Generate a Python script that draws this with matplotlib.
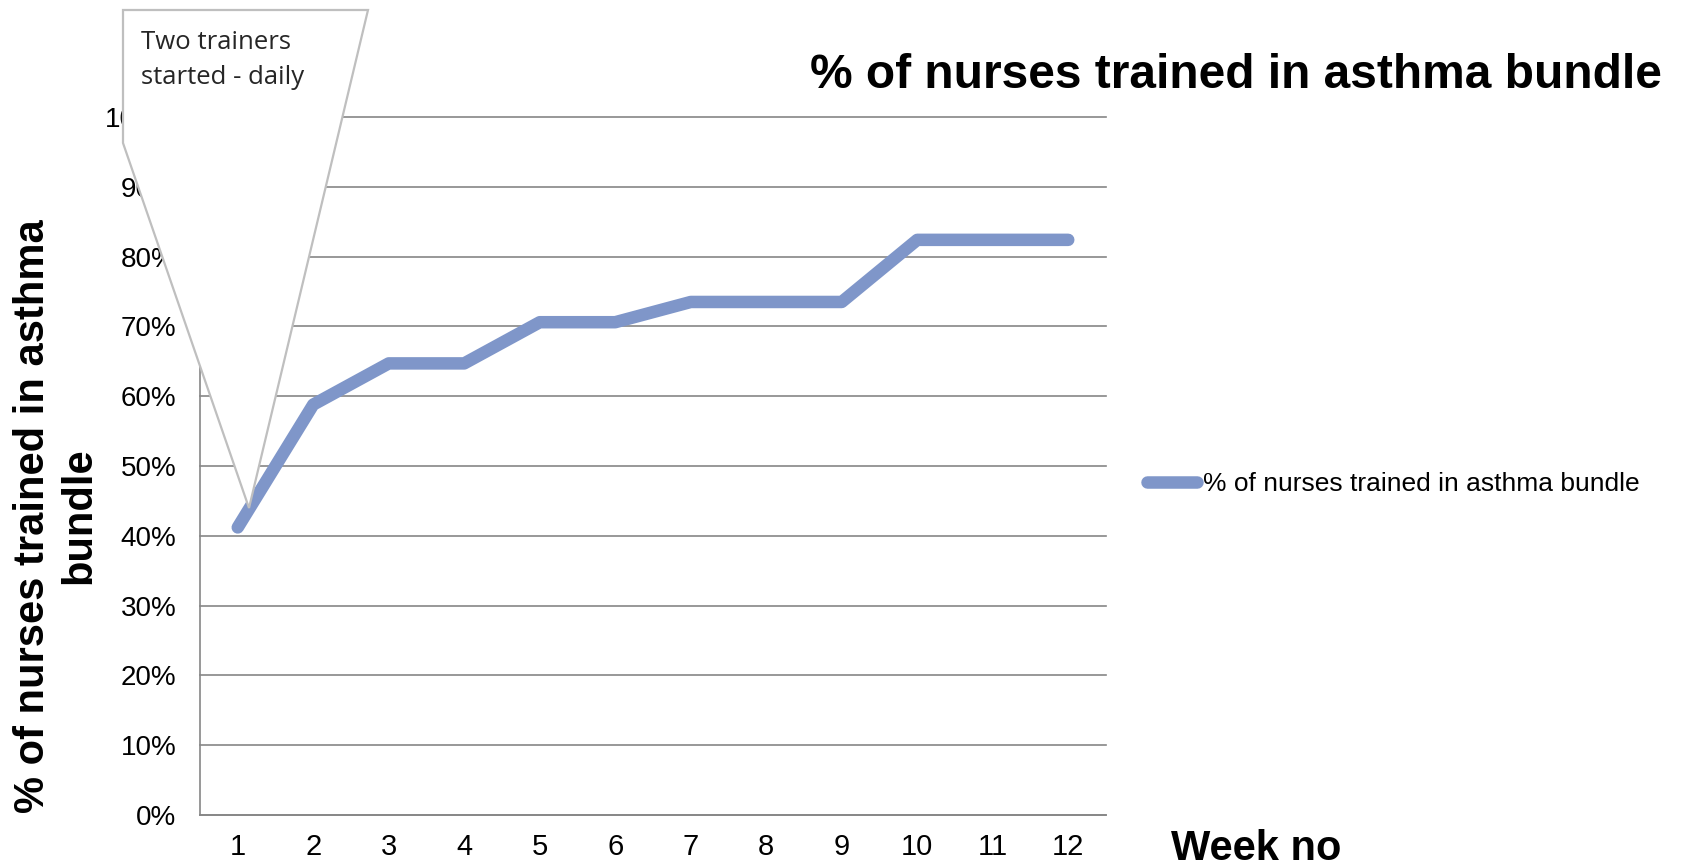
import numpy as np
import matplotlib
matplotlib.use('Agg')
from matplotlib import pyplot as plt
from matplotlib.patches import Polygon
from matplotlib.transforms import Affine2D

plt.rcParams['font.family'] = ['Liberation Sans', 'DejaVu Sans']

# data: weekly share of nurses trained
weeks = np.arange(1, 13)
trained = [41.2, 58.8, 64.7, 64.7, 70.6, 70.6, 73.5, 73.5, 73.5, 82.4, 82.4, 82.4]
yticks = np.arange(0, 101, 10)
series_name = '% of nurses trained in asthma bundle'
callout_text = 'Two trainers\nstarted - daily'

W, H = 1683, 867
fig = plt.figure(figsize=(W/100, H/100), dpi=100)
ax = fig.add_axes([200/W, 52/H, 906/W, 698/H])

ax.plot(weeks, trained, color='#7F96C9', lw=9, solid_capstyle='round',
        solid_joinstyle='round', label=series_name, zorder=3)

ax.set_xlim(0.5, 12.5)
ax.set_ylim(0, 100)
ax.set_yticks(yticks)
ax.set_yticklabels(['%d%%' % v for v in yticks], fontsize=20)
ax.set_xticks(weeks)
ax.set_xticklabels([str(w) for w in weeks], fontsize=21,
                   family=['Liberation Sans Narrow', 'Liberation Sans'])
ax.tick_params(length=0)
ax.tick_params(axis='y', pad=17)
ax.tick_params(axis='x', pad=13)
ax.grid(axis='y', color='#868686', lw=1.2)
ax.set_axisbelow(True)
for g in ax.get_ygridlines():
    g.set_clip_on(False)
for s in ['top', 'right']:
    ax.spines[s].set_visible(False)
for s in ['left', 'bottom']:
    ax.spines[s].set_color('#868686')
    ax.spines[s].set_linewidth(1.2)

fig.text(56/W, 1-516/H, '% of nurses trained in asthma\nbundle', fontsize=30,
         fontweight='bold', rotation=90, ha='center', va='center',
         multialignment='center', linespacing=1.2)

fig.text(1662/W, 1-76/H, series_name, fontsize=34.5, fontweight='bold',
         ha='right', va='center')
fig.text(1256/W, 1-849/H, 'Week no', fontsize=30, fontweight='bold',
         ha='center', va='center')

leg = fig.legend(loc='center left', bbox_to_anchor=(1136/W, 1-484/H),
                 frameon=False, fontsize=19, handlelength=1.9,
                 handletextpad=0.25, borderaxespad=0)

# callout shape in pixel coordinates (y downward)
pix = Affine2D().scale(1/W, -1/H).translate(0, 1) + fig.transFigure
callout = Polygon([(123, 10), (368, 10), (249, 508), (123, 143)], closed=True,
                  facecolor='white', edgecolor='#BFBFBF', lw=1.6,
                  transform=pix, zorder=10)
fig.patches.append(callout)
fig.text(141/W, 1-60/H, callout_text, fontsize=18.5, family=['Open Sans', 'DejaVu Sans'],
         color='#262626', ha='left', va='center', linespacing=1.55, zorder=11)

fig.savefig('out.png', dpi=100)
